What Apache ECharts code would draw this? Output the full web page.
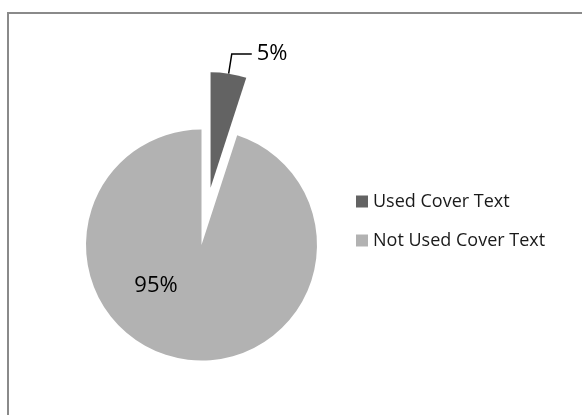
<!DOCTYPE html>
<html>
<head>
<meta charset="utf-8">
<script src="https://cdn.jsdelivr.net/npm/echarts@6/dist/echarts.min.js"></script>
<style>
html,body{margin:0;padding:0;background:#fff;}
#chart{width:582px;height:415px;}
</style>
</head>
<body>
<div id="chart"></div>
<script>
var categories = ['Used Cover Text', 'Not Used Cover Text'];
var values = [5, 95];
var colors = ['#636363', '#b2b2b2'];

var chart = echarts.init(document.getElementById('chart'), null, {renderer: 'canvas'});

var data = categories.map(function (name, i) {
  var item = {name: name, value: values[i], itemStyle: {color: colors[i]}};
  if (i === 0) {
    item.selected = true;
    item.label = {position: 'outside', distanceToLabelLine: 5};
    item.labelLine = {show: true, length: 20, length2: 20, lineStyle: {color: '#000', width: 1.5}};
  } else {
    item.label = {position: 'inside'};
    item.labelLine = {show: false};
  }
  return item;
});

chart.setOption({
  animation: false,
  backgroundColor: '#ffffff',
  graphic: [{
    type: 'rect',
    shape: {x: 8, y: 13, width: 700, height: 600},
    style: {fill: 'none', stroke: '#8a8a8a', lineWidth: 2},
    silent: true,
    z: 100
  }],
  legend: {
    orient: 'vertical',
    left: 356,
    top: 191.5,
    padding: 0,
    itemWidth: 12,
    itemHeight: 12,
    itemGap: 19,
    itemTextGap: 6,
    icon: 'rect',
    textStyle: {fontFamily: 'Open Sans', fontSize: 18, color: '#1a1a1a', lineHeight: 20},
    data: categories
  },
  series: [{
    type: 'pie',
    center: [201.5, 245],
    radius: 115.5,
    startAngle: 90,
    clockwise: true,
    selectedMode: 'single',
    selectedOffset: 58,
    avoidLabelOverlap: false,
    emphasis: {disabled: true},
    label: {
      show: true,
      formatter: '{d}%',
      fontFamily: 'Open Sans',
      fontSize: 22,
      color: '#000'
    },
    labelLayout: function (params) {
      if (params.dataIndex === 1) {
        return {dx: -36, dy: -19};
      }
      return {};
    },
    itemStyle: {borderWidth: 0},
    data: data
  }]
});
</script>
</body>
</html>
